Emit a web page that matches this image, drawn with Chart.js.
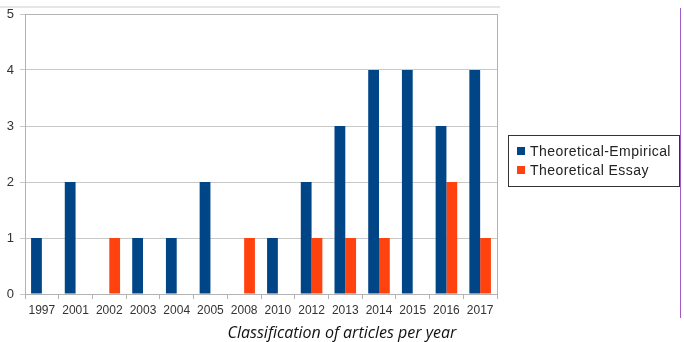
<!DOCTYPE html>
<html>
<head>
  <title>Classification of articles per year</title>
  <script src="https://cdn.jsdelivr.net/npm/chart.js"></script>
  <style>
    body { margin: 0; background: #fff; width: 684px; height: 342px; position: relative; overflow: hidden; }
    #wrap { position: absolute; left: 0; top: 0; width: 684px; height: 342px; }
    #topline { position: absolute; left: 0; top: 6px; width: 500px; height: 2px; background: #e6e6e6; }
    #sideline { position: absolute; left: 680px; top: 8px; width: 1px; height: 310px; background: #a05cc0; }
    #legend {
      position: absolute; left: 508px; top: 135px; width: 172px; height: 52px;
      border: 1px solid #333; box-sizing: border-box;
      font: 14px "Liberation Sans", Arial, sans-serif; letter-spacing: 0.45px; color: #222;
      padding-top: 6px;
    }
    #legend div { height: 19px; line-height: 19px; white-space: nowrap; }
    #legend span { display: inline-block; width: 8px; height: 8px; margin: 0 5px 0 8px; vertical-align: 1px; }
    #caption {
      position: absolute; left: 0; width: 684px; top: 321px; text-align: center;
      font: italic 16px "Open Sans", sans-serif; color: #111;
    }
  </style>
</head>
<body>
  <div id="topline"></div>
  <div id="wrap"><canvas id="myChart" width="684" height="342"></canvas></div>
  <div id="sideline"></div>
  <div id="legend"></div>
  <div id="caption">Classification of articles per year</div>

  <script>
    // data
    const years = ['1997', '2001', '2002', '2003', '2004', '2005', '2008', '2010', '2012', '2013', '2014', '2015', '2016', '2017'];
    const empirical = [1, 2, 0, 1, 1, 2, 0, 1, 2, 3, 4, 4, 3, 4];
    const essay = [0, 0, 1, 0, 0, 0, 1, 0, 1, 1, 1, 0, 2, 1];
    const seriesNames = ['Theoretical-Empirical', 'Theoretical Essay'];
    const colors = ['#004586', '#ff420e'];

    // frame around the plot area
    const frame = {
      id: 'frame',
      afterDraw(chart) {
        const a = chart.chartArea, c = chart.ctx;
        c.save();
        c.strokeStyle = '#b3b3b3';
        c.lineWidth = 1;
        c.strokeRect(Math.round(a.left) + 0.5, Math.round(a.top) + 0.5, Math.round(a.right - a.left), Math.round(a.bottom - a.top));
        c.restore();
      }
    };

    const ctx = document.getElementById('myChart').getContext('2d');
    new Chart(ctx, {
      type: 'bar',
      data: {
        labels: years,
        datasets: [
          { label: seriesNames[0], data: empirical, backgroundColor: colors[0] },
          { label: seriesNames[1], data: essay, backgroundColor: colors[1] }
        ]
      },
      options: {
        responsive: false,
        animation: false,
        datasets: { bar: { categoryPercentage: 0.64, barPercentage: 1.0 } },
        layout: { padding: { top: 14, right: 187, left: 0, bottom: 0 } },
        plugins: { legend: { display: false }, tooltip: { enabled: false } },
        scales: {
          x: {
            afterFit(s) { s.height = 48; },
            grid: { drawOnChartArea: false, offset: true, tickLength: 5, color: '#b3b3b3' },
            border: { color: '#b3b3b3' },
            ticks: { color: '#333', font: { family: 'Liberation Sans', size: 12 }, maxRotation: 0, autoSkip: false, padding: 4 }
          },
          y: {
            min: 0, max: 5,
            afterFit(s) { s.width = 25; },
            grid: { color: '#c8c8c8', tickLength: 5 },
            border: { color: '#b3b3b3' },
            ticks: { stepSize: 1, color: '#333', font: { family: 'Liberation Sans', size: 13 }, padding: 6 }
          }
        }
      },
      plugins: [frame]
    });

    const legend = document.getElementById('legend');
    seriesNames.forEach((name, i) => {
      const row = document.createElement('div');
      row.innerHTML = '<span style="background:' + colors[i] + '"></span>' + name;
      legend.appendChild(row);
    });
  </script>
</body>
</html>
